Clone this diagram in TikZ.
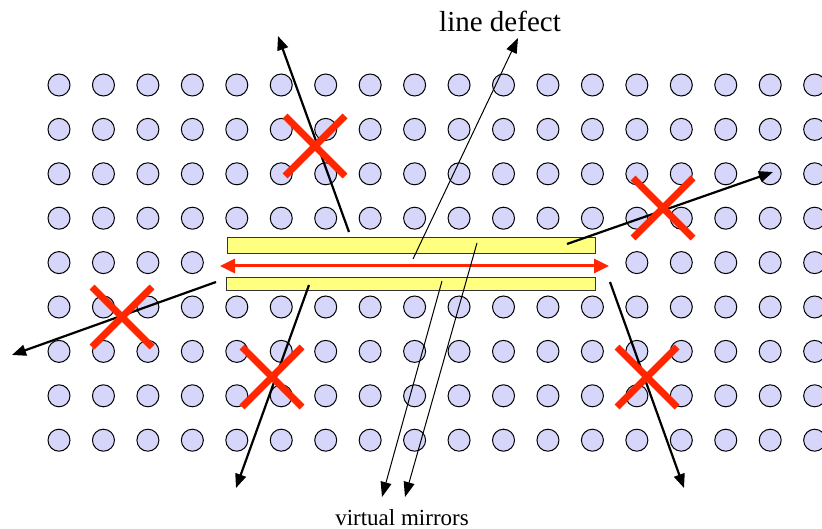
\documentclass[tikz,border=0pt]{standalone}
\usepackage{fontspec}
\setmainfont{Liberation Serif}
\usetikzlibrary{arrows.meta}

\definecolor{holecol}{RGB}{214,214,250}
\definecolor{barcol}{RGB}{255,255,128}
\definecolor{xred}{RGB}{255,38,0}

\begin{document}
\begin{tikzpicture}[x=1pt,y=-1pt,
    hole/.style={circle,draw=black,fill=holecol,line width=1pt,minimum size=22pt,inner sep=0pt},
    mirror_bar/.style={rectangle,draw=black!80,fill=barcol,line width=0.8pt,inner sep=0pt},
    ray/.style={line width=2.2pt,-{Triangle[length=14pt,width=11pt]}},
    thin_ray/.style={line width=1pt,-{Triangle[length=15pt,width=11pt]}},
    guided/.style={xred,line width=3pt,{Triangle[length=15pt,width=14pt]}-{Triangle[length=15pt,width=14pt]}},
    cross/.style={xred,line width=7pt}]
    \useasboundingbox (0,0) rectangle (822,529);

    % photonic crystal holes
    \foreach \i in {0,...,17}{
        \foreach \j in {0,...,8}{
            \pgfmathtruncatemacro{\skip}{(\j==4 && \i>3 && \i<13) ? 1 : 0}
            \ifnum\skip=0
                \node[hole] (h-\i-\j) at ({59+44.45*\i},{85+44.4*\j}) {};
            \fi
        }
    }

    % line defect
    \node[mirror_bar,minimum width=368pt,minimum height=16pt] (top) at (411,245) {};
    \node[mirror_bar,minimum width=369pt,minimum height=13pt] (bot) at (410.5,283.5) {};

    \coordinate (l) at (220,266);
    \coordinate (r) at (609,266);
    \draw[guided] (l) -- (r);

    % escaping rays
    \coordinate (1s) at (349,232);
    \coordinate (1e) at (278,36);
    \coordinate (2s) at (567,244);
    \coordinate (2e) at (773,172);
    \coordinate (3s) at (216,282);
    \coordinate (3e) at (12,355);
    \coordinate (4s) at (309,285);
    \coordinate (4e) at (236,488);
    \coordinate (5s) at (610,282);
    \coordinate (5e) at (684,488);
    \draw[ray] (1s) -- (1e);
    \draw[ray] (2s) -- (2e);
    \draw[ray] (3s) -- (3e);
    \draw[ray] (4s) -- (4e);
    \draw[ray] (5s) -- (5e);

    % forbidden
    \foreach \x/\y in {315/146, 663/208, 122/317, 272/377, 647/377}{
        \draw[cross] (\x-30,\y-30) -- (\x+30,\y+30);
        \draw[cross] (\x-30,\y+30) -- (\x+30,\y-30);
    }

    % labels
    \node[anchor=base] (defect) at (500,32) {\fontsize{29}{30}\selectfont line defect};
    \node[anchor=base] (mirrors) at (402,525) {\fontsize{23}{24}\selectfont virtual mirrors};

    \coordinate (6s) at (413,259);
    \coordinate (6e) at (518,38);
    \coordinate (7s) at (442,281);
    \coordinate (7e) at (382,497);
    \coordinate (8s) at (477,243);
    \coordinate (8e) at (405,497);
    \draw[thin_ray] (6s) -- (6e);
    \draw[thin_ray] (7s) -- (7e);
    \draw[thin_ray] (8s) -- (8e);
\end{tikzpicture}
\end{document}
